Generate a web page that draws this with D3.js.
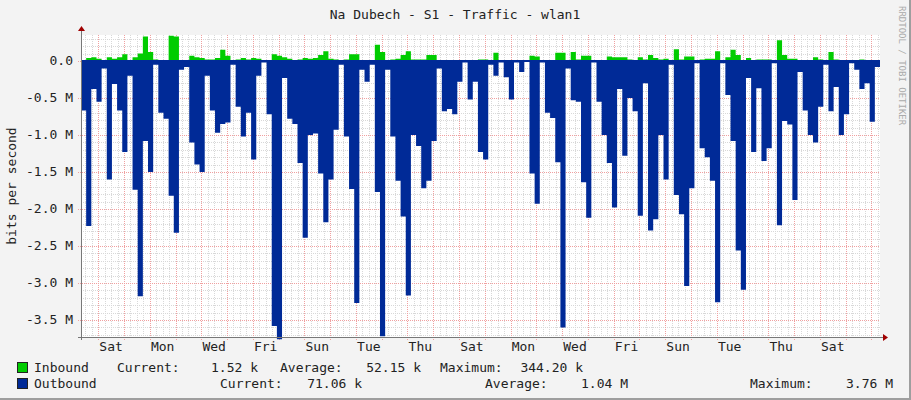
<!DOCTYPE html>
<html>
<head>
<meta charset="utf-8">
<script src="https://cdn.jsdelivr.net/npm/d3@7.9.0/dist/d3.min.js"></script>
<style>
  body { margin: 0; background: #f3f3f3; }
  svg text { font-family: "DejaVu Sans Mono", monospace; }
</style>
</head>
<body>
<svg id="chart" width="911" height="400"></svg>
<script>
// values in M bits/s, one sample every 4.8 h, starting Friday ~16:00
const outbound = [
  0.67, 2.23, 0.38, 0.55, 0.10, 1.60, 0.31, 0.67, 1.23, 0.20,
  1.74, 3.18, 1.08, 1.50, 0.05, 0.70, 0.78, 1.82, 2.32, 0.12,
  0.08, 1.10, 1.40, 1.50, 0.20, 0.67, 0.97, 0.85, 0.83, 0.05,
  0.62, 1.02, 0.70, 1.33, 0.20, 0.02, 0.72, 3.58, 3.76, 0.23,
  0.78, 0.85, 1.38, 2.39, 1.00, 0.98, 1.52, 2.18, 1.60, 0.93,
  0.05, 1.02, 1.73, 3.27, 0.12, 0.28, 0.05, 1.77, 3.72, 0.12,
  1.02, 1.62, 2.10, 3.17, 1.00, 1.15, 1.72, 1.62, 1.08, 0.10,
  0.68, 0.65, 0.72, 0.28, 0.02, 0.52, 0.28, 1.23, 1.33, 0.05,
  0.20, 0.02, 0.22, 0.52, 0.02, 0.15, 0.00, 1.52, 1.93, 0.02,
  0.70, 0.77, 1.37, 3.60, 0.10, 0.53, 0.55, 1.64, 2.12, 0.02,
  0.55, 1.00, 1.38, 1.98, 0.38, 1.28, 0.50, 0.68, 2.09, 0.30,
  2.29, 2.14, 1.00, 1.60, 0.05, 1.81, 2.07, 3.04, 1.72, 0.03,
  1.18, 1.30, 1.62, 3.26, 0.03, 0.46, 1.08, 2.56, 3.09, 0.23,
  1.23, 0.37, 1.35, 1.18, 0.03, 2.22, 0.81, 0.86, 1.88, 0.15,
  0.67, 1.00, 1.10, 0.62, 0.05, 0.68, 0.35, 1.00, 0.72, 0.03,
  0.12, 0.38, 0.30, 0.82, 0.08
];
const inbound = [
  0.01, 0.04, 0.05, 0.03, 0.00, 0.05, 0.03, 0.05, 0.09, 0.00,
  0.05, 0.10, 0.33, 0.12, 0.02, 0.01, 0.01, 0.34, 0.33, 0.00,
  0.00, 0.07, 0.05, 0.04, 0.02, 0.02, 0.04, 0.15, 0.07, 0.00,
  0.02, 0.04, 0.02, 0.04, 0.03, 0.00, 0.01, 0.09, 0.07, 0.05,
  0.03, 0.01, 0.02, 0.04, 0.03, 0.04, 0.08, 0.13, 0.03, 0.02,
  0.00, 0.02, 0.09, 0.09, 0.00, 0.01, 0.00, 0.22, 0.12, 0.00,
  0.02, 0.03, 0.08, 0.13, 0.02, 0.02, 0.02, 0.08, 0.08, 0.00,
  0.01, 0.01, 0.01, 0.00, 0.00, 0.00, 0.00, 0.02, 0.02, 0.00,
  0.11, 0.00, 0.00, 0.00, 0.00, 0.00, 0.00, 0.07, 0.06, 0.00,
  0.01, 0.01, 0.11, 0.11, 0.00, 0.12, 0.02, 0.07, 0.07, 0.00,
  0.00, 0.01, 0.06, 0.05, 0.05, 0.05, 0.02, 0.01, 0.05, 0.02,
  0.08, 0.04, 0.02, 0.03, 0.00, 0.16, 0.02, 0.06, 0.06, 0.00,
  0.02, 0.03, 0.03, 0.13, 0.00, 0.05, 0.15, 0.08, 0.00, 0.04,
  0.00, 0.02, 0.02, 0.02, 0.00, 0.28, 0.08, 0.03, 0.03, 0.00,
  0.01, 0.01, 0.05, 0.02, 0.00, 0.12, 0.02, 0.01, 0.01, 0.01,
  0.01, 0.02, 0.00, 0.01, 0.01
];
const stepHours = 4.8;
const firstMidnight = 16; // hours from start
const dayNames = ['Sat', 'Mon', 'Wed', 'Fri', 'Sun', 'Tue', 'Thu', 'Sat', 'Mon', 'Wed', 'Fri', 'Sun', 'Tue', 'Thu', 'Sat'];
const yTicks = [0, -0.5, -1.0, -1.5, -2.0, -2.5, -3.0, -3.5];
const yLabels = ['0.0', '-0.5 M', '-1.0 M', '-1.5 M', '-2.0 M', '-2.5 M', '-3.0 M', '-3.5 M'];

const svg = d3.select('#chart');
const pLeft = 81, pRight = 880, pTop = 35, pBottom = 337;
const totalHours = outbound.length * stepHours;

const x = d3.scaleLinear().domain([0, totalHours]).range([pLeft, pRight]);
const y = d3.scaleLinear().domain([-3.73, 0.351]).range([pBottom, pTop]);

// frame
svg.append('rect').attr('width', 911).attr('height', 400).attr('fill', '#f3f3f3');
svg.append('path').attr('d', 'M0,399H910V0').attr('stroke', '#9e9e9e').attr('stroke-width', 2).attr('fill', 'none');
svg.append('rect').attr('x', pLeft).attr('y', pTop).attr('width', pRight - pLeft).attr('height', pBottom - pTop).attr('fill', '#fff');

const grid = svg.append('g');
// minor grid
const minorX = d3.range(firstMidnight - 12, totalHours, 6).filter((h) => h > 0 && (h - firstMidnight) % 24 !== 0);
grid.selectAll('.mx').data(minorX).join('line')
  .attr('x1', (d) => Math.round(x(d)) + 0.5).attr('x2', (d) => Math.round(x(d)) + 0.5)
  .attr('y1', pTop).attr('y2', pBottom)
  .attr('stroke', '#d8d8d8').attr('stroke-dasharray', '1,1');
const minorY = d3.range(3, -38, -1).map((v) => v / 10).filter((v) => Math.abs(v * 2 - Math.round(v * 2)) > 1e-6);
grid.selectAll('.my').data(minorY).join('line')
  .attr('y1', (d) => Math.round(y(d)) + 0.5).attr('y2', (d) => Math.round(y(d)) + 0.5)
  .attr('x1', pLeft).attr('x2', pRight)
  .attr('stroke', '#d8d8d8').attr('stroke-dasharray', '1,1');
// major grid
const majorX = d3.range(firstMidnight, totalHours, 24);
grid.selectAll('.Mx').data(majorX).join('line')
  .attr('x1', (d) => Math.round(x(d)) + 0.5).attr('x2', (d) => Math.round(x(d)) + 0.5)
  .attr('y1', pTop).attr('y2', pBottom + 3)
  .attr('stroke', '#f0a0a0').attr('stroke-dasharray', '1,1');
grid.selectAll('.My').data(yTicks).join('line')
  .attr('y1', (d) => Math.round(y(d)) + 0.5).attr('y2', (d) => Math.round(y(d)) + 0.5)
  .attr('x1', pLeft - 3).attr('x2', pRight)
  .attr('stroke', '#f0a0a0').attr('stroke-dasharray', '1,1');

// areas
const pts = (arr, sign) => arr.map((v, i) => [i * stepHours, sign * v]).concat([[totalHours, sign * arr[arr.length - 1]]]);
const area = d3.area().x((d) => x(d[0])).y0(y(0)).y1((d) => y(d[1])).curve(d3.curveStepAfter);
svg.append('path').attr('d', area(pts(inbound, 1))).attr('fill', '#00cc00');
svg.append('path').attr('d', area(pts(outbound, -1))).attr('fill', '#002a97');
svg.append('line').attr('x1', pLeft).attr('x2', pRight).attr('y1', y(0)).attr('y2', y(0))
  .attr('stroke', '#002a97').attr('stroke-width', 2);

// axes
svg.append('line').attr('x1', pLeft - 3).attr('x2', pRight + 3).attr('y1', pBottom + 0.5).attr('y2', pBottom + 0.5).attr('stroke', '#777');
svg.append('line').attr('x1', pLeft + 0.5).attr('x2', pLeft + 0.5).attr('y1', pTop - 5).attr('y2', pBottom + 3).attr('stroke', '#777');
svg.append('path').attr('d', `M${pRight + 3},${pBottom - 3}L${pRight + 8},${pBottom + 0.5}L${pRight + 3},${pBottom + 4}Z`).attr('fill', '#a00000');
svg.append('path').attr('d', `M${pLeft - 3},${pTop - 4}L${pLeft + 0.5},${pTop - 9}L${pLeft + 4},${pTop - 4}Z`).attr('fill', '#a00000');

svg.selectAll('.yl').data(yTicks).join('text')
  .attr('x', 73).attr('y', (d) => y(d) + 4.5).attr('text-anchor', 'end')
  .attr('font-size', 13).attr('fill', '#222')
  .text((d, i) => yLabels[i]);
svg.selectAll('.xl').data(dayNames).join('text')
  .attr('x', (d, i) => x(firstMidnight + 12 + i * 48)).attr('y', 351).attr('text-anchor', 'middle')
  .attr('font-size', 13).attr('fill', '#222')
  .text((d) => d);

svg.append('text').attr('x', 455).attr('y', 19).attr('text-anchor', 'middle').attr('font-size', 13).attr('fill', '#222')
  .text('Na Dubech - S1 - Traffic - wlan1');
svg.append('text').attr('transform', 'translate(16,186) rotate(-90)').attr('text-anchor', 'middle')
  .attr('font-size', 13).attr('fill', '#222').text('bits per second');
svg.append('text').attr('transform', 'translate(899,6) rotate(90)').attr('text-anchor', 'start')
  .attr('font-size', 9).attr('fill', '#aaa').text('RRDTOOL / TOBI OETIKER');

// legend
const legend = svg.append('g').attr('font-size', 13).attr('fill', '#222');
legend.append('rect').attr('x', 17.5).attr('y', 362.5).attr('width', 10).attr('height', 10).attr('fill', '#00cc00').attr('stroke', '#222');
legend.append('rect').attr('x', 17.5).attr('y', 378.5).attr('width', 10).attr('height', 10).attr('fill', '#002a97').attr('stroke', '#222');
const legendItems = [
  [34, 372, 'start', 'Inbound'], [117, 372, 'start', 'Current:'], [258, 372, 'end', '1.52 k'],
  [280, 372, 'start', 'Average:'], [421, 372, 'end', '52.15 k'], [440, 372, 'start', 'Maximum:'], [583, 372, 'end', '344.20 k'],
  [34, 388, 'start', 'Outbound'], [220, 388, 'start', 'Current:'], [362, 388, 'end', '71.06 k'],
  [485, 388, 'start', 'Average:'], [628, 388, 'end', '1.04 M'], [750, 388, 'start', 'Maximum:'], [893, 388, 'end', '3.76 M']
];
legend.selectAll('text').data(legendItems).join('text')
  .attr('x', (d) => d[0]).attr('y', (d) => d[1]).attr('text-anchor', (d) => d[2])
  .text((d) => d[3]);
</script>
</body>
</html>
